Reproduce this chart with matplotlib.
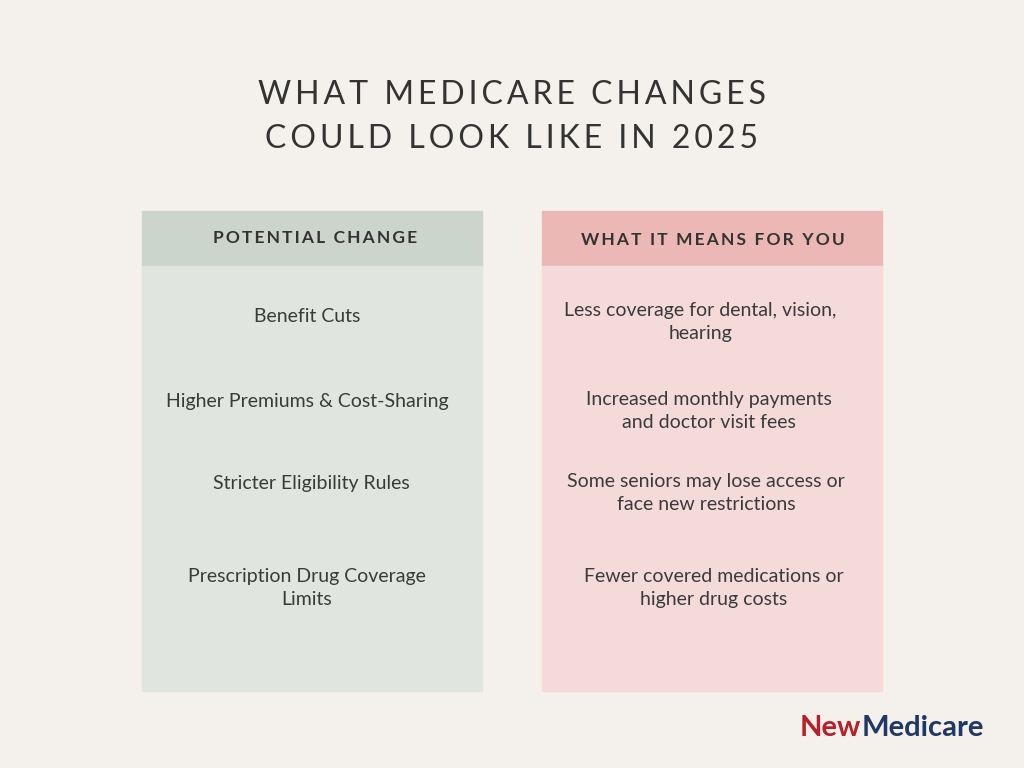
import matplotlib.pyplot as plt
from matplotlib.patches import Rectangle

title_lines = ["WHAT MEDICARE CHANGES", "COULD LOOK LIKE IN 2025"]
headers = ["POTENTIAL CHANGE", "WHAT IT MEANS FOR YOU"]
changes = ["Benefit Cuts",
           "Higher Premiums & Cost-Sharing",
           "Stricter Eligibility Rules",
           "Prescription Drug Coverage\nLimits"]
meanings = ["Less coverage for dental, vision,\nhearing",
            "Increased monthly payments\nand doctor visit fees",
            "Some seniors may lose access or\nface new restrictions",
            "Fewer covered medications or\nhigher drug costs"]

# layout (pixel coords)
left_x = [307, 307, 311, 307]
left_y = [316, 401, 483, 588]
right_x = [700, 709, 706, 714]
right_y = [322, 411, 493, 588]

fig = plt.figure(figsize=(10.24, 7.68), dpi=100)
fig.patch.set_facecolor('#f4f0eb')
ax = fig.add_axes([0, 0, 1, 1])
ax.set_xlim(0, 1024)
ax.set_ylim(768, 0)
ax.axis('off')

def spaced(s):
    return '\u2009'.join(s)

ax.text(512, 95, spaced(title_lines[0]), ha='center', va='center', fontsize=23,
        family='Lato', color='#333333')
ax.text(512, 139, spaced(title_lines[1]), ha='center', va='center', fontsize=23,
        family='Lato', color='#333333')

# columns
ax.add_patch(Rectangle((142, 211), 340, 55, color='#ccd5cb'))
ax.add_patch(Rectangle((142, 266), 340, 425, color='#e0e6df'))
ax.add_patch(Rectangle((542, 211), 340, 55, color='#ebb8b5'))
ax.add_patch(Rectangle((542, 266), 340, 425, color='#f5dada'))

ax.text(315, 238, spaced(headers[0]), ha='center', va='center', fontsize=12.5,
        family='Lato', weight='bold', color='#333333')
ax.text(713, 240, spaced(headers[1]), ha='center', va='center', fontsize=12.5,
        family='Lato', weight='bold', color='#333333')

for x, y, s in zip(left_x, left_y, changes):
    ax.text(x, y, s, ha='center', va='center', fontsize=14, family='Lato',
            color='#3a3a3a', linespacing=1.4)
for x, y, s in zip(right_x, right_y, meanings):
    ax.text(x, y, s, ha='center', va='center', fontsize=14, family='Lato',
            color='#3a3a3a', linespacing=1.4)

# logo
t = ax.text(800, 728, "New", ha='left', va='center', fontsize=21, family='Lato',
            weight='bold', color='#b5202a')
fig.canvas.draw()
bb = t.get_window_extent()
ax.text(800 + bb.width, 728, "Medicare", ha='left', va='center', fontsize=21,
        family='Lato', weight='bold', color='#1f3864')

fig.savefig('out.png', dpi=100, facecolor=fig.get_facecolor())
